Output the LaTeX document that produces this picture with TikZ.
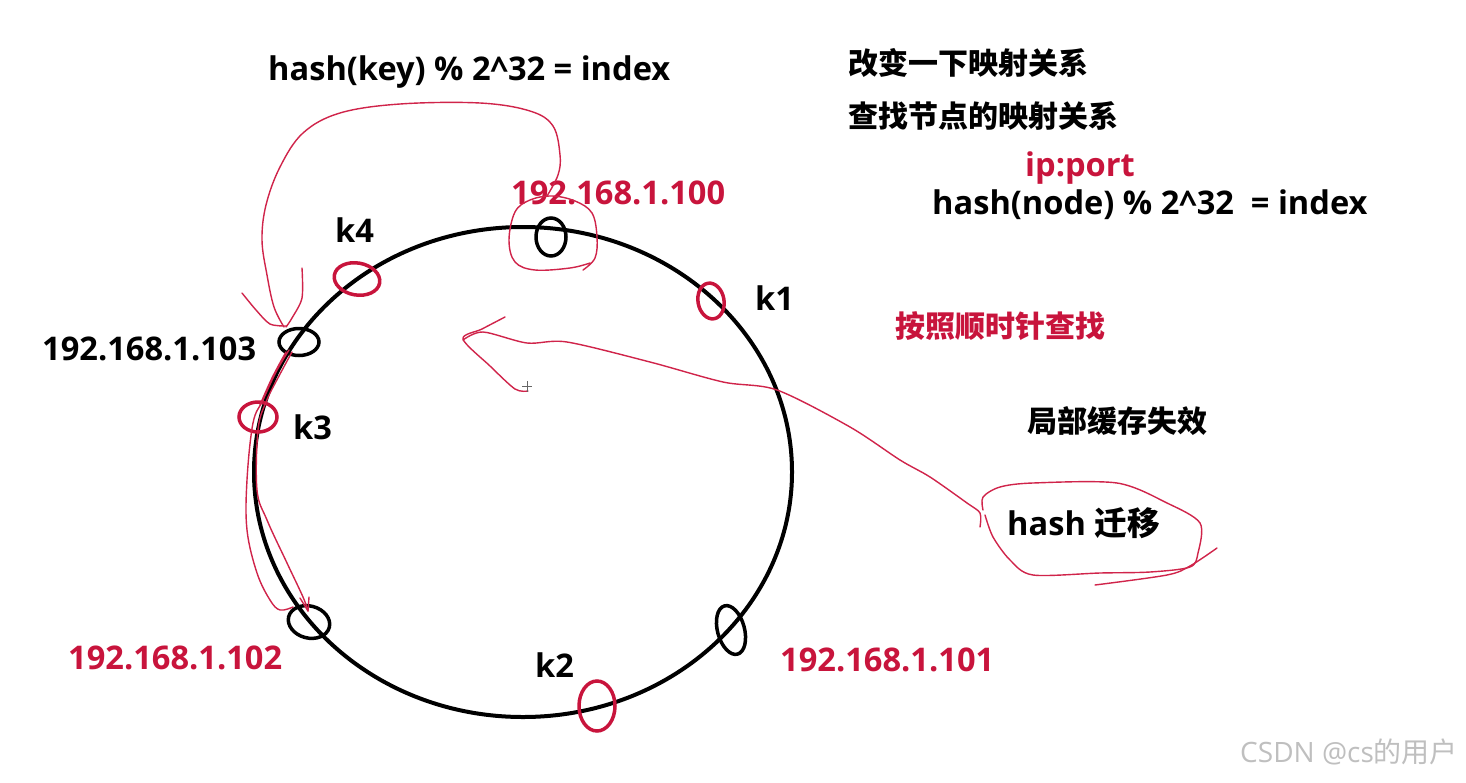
\documentclass[tikz,border=0pt]{standalone}
\usepackage{fontspec}
\setmainfont{Open Sans}
\newfontfamily\cjk{Noto Sans CJK SC}
\usetikzlibrary{shapes.geometric}
\definecolor{hred}{HTML}{C8143C}
\definecolor{pred}{HTML}{D0244A}
\begin{document}
\begin{tikzpicture}[x=1pt,y=-1pt,
  lbl/.style={font=\bfseries\fontsize{32.6}{38}\selectfont, inner sep=0, anchor=west},
  clbl/.style={font=\cjk\bfseries\fontsize{30}{36}\selectfont, inner sep=0, anchor=west},
  hot/.style={text=hred},
  blkring/.style={draw=black, line width=3.5pt, ellipse, inner sep=0},
  redring/.style={draw=hred, line width=3.5pt, ellipse, inner sep=0},
  pen/.style={draw=pred, line width=1.4pt, line join=round, line cap=round}]
\useasboundingbox (0,0) rectangle (1466,782);
\fill[white] (0,0) rectangle (1466,782);

% ring
\node[draw, ellipse, line width=4pt, minimum width=538pt, minimum height=490pt, inner sep=0] (ring) at (523,472) {};

% node markers
\node[blkring, minimum width=30pt, minimum height=38pt] (n100) at (551,237) {};
\node[blkring, minimum width=40pt, minimum height=27pt] (n103) at (299,342) {};
\node[blkring, minimum width=42pt, minimum height=32pt, rotate=-15] (n102) at (309,622) {};
\node[blkring, minimum width=27pt, minimum height=50pt, rotate=15] (n101) at (731,630) {};
% key markers
\node[redring, minimum width=46pt, minimum height=32pt, rotate=-10] (k4) at (357,279) {};
\node[redring, minimum width=26pt, minimum height=36pt, rotate=10] (k1) at (711,301) {};
\node[redring, minimum width=38pt, minimum height=30pt] (k3) at (258,417) {};
\node[redring, minimum width=36pt, minimum height=50pt] (k2) at (597,706) {};

% texts
\node[lbl] (t1) at (268,72) {hash(key) \% 2\textasciicircum 32 = index};
\node[clbl] (t2) at (848,63) {改变一下映射关系};
\node[clbl] (t3) at (848,116) {查找节点的映射关系};
\node[lbl, hot] (t4) at (1025,168) {ip:port};
\node[lbl] (t5) at (932,205) {hash(node) \% 2\textasciicircum 32\ \ = index};
\node[lbl, hot] (l100) at (511,193) {192.168.1.100};
\node[lbl] (lk4) at (335,230) {k4};
\node[lbl] (lk1) at (755,298) {k1};
\node[clbl, hot] (t6) at (895,326) {按照顺时针查找};
\node[lbl] (l103) at (42,349) {192.168.1.103};
\node[lbl] (lk3) at (293,427) {k3};
\node[clbl] (t7) at (1027,421) {局部缓存失效};
\node[lbl] (t8) at (1007,523) {hash {\cjk 迁移}};
\node[lbl, hot] (l102) at (68,658) {192.168.1.102};
\node[lbl] (lk2) at (535,665) {k2};
\node[lbl, hot] (l101) at (780,660) {192.168.1.101};
\node[font=\fontsize{28}{32}\selectfont, text=black!25, inner sep=0, anchor=west] (wm) at (1240,752) {CSDN @cs{\cjk 的用户}};

% hand-drawn strokes: loop around 192.168.1.100 and arc to 192.168.1.103
\draw[pen] plot[smooth, tension=0.6] coordinates {(583,270) (595,258) (597,237) (592,213) (575,201) (552,196) (530,200) (515,212) (509,240) (515,262) (535,270) (570,268) (590,263)};
\draw[pen] plot[smooth, tension=0.6] coordinates {(547,196) (558,175) (560,155) (553,126) (530,111) (480,103) (400,104) (340,113) (303,133) (280,167) (266,205) (262,240) (267,275) (274,307) (284,327)};
\draw[pen] plot[smooth, tension=0.5] coordinates {(242,293) (256,310) (270,324) (286,326)};
\draw[pen] plot[smooth, tension=0.5] coordinates {(302,268) (302,298) (292,318) (286,327)};
% strokes from 192.168.1.103 down to 192.168.1.102
\draw[pen] plot[smooth, tension=0.6] coordinates {(289,350) (276,372) (263,400) (253,423) (247,480) (247,530) (257,573) (270,600) (280,610) (293,607)};
\draw[pen] plot[smooth, tension=0.6] coordinates {(292,352) (279,376) (266,402) (258,430) (257,490) (267,520) (287,563) (303,597) (308,611)};
\draw[pen] plot[smooth, tension=0.6] coordinates {(286,352) (272,378) (260,405)};
\draw[pen] (300,598) -- (308,611) -- (309,597);

% arrow from hash migration towards centre
\draw[pen] plot[smooth, tension=0.5] coordinates {(980,527) (980,513) (967,503) (930,477) (900,460) (850,427) (777,390) (723,382) (650,362) (567,342) (527,343) (483,332) (463,340)};
\draw[pen] plot[smooth, tension=0.5] coordinates {(505,317) (482,329) (463,339) (490,366) (515,389) (528,391)};
\draw[draw=black!60, line width=0.9pt] (522,386) -- (532,386) (527,381) -- (527,392);

% loop around hash migration
\draw[pen] plot[smooth, tension=0.5] coordinates {(983,510) (983,497) (1000,487) (1033,483) (1117,483) (1167,503) (1200,523) (1198,553) (1190,567) (1150,572) (1100,573) (1033,575) (1010,560) (993,537) (985,515)};
\draw[pen] plot[smooth, tension=0.5] coordinates {(1095,585) (1167,575) (1190,566) (1217,548)};
\end{tikzpicture}
\end{document}
